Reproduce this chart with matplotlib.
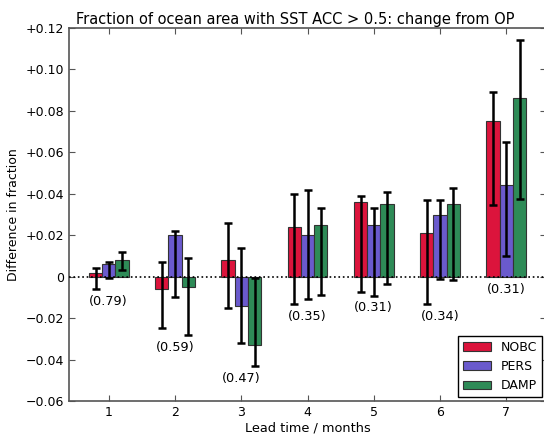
import matplotlib
matplotlib.use("Agg")
import matplotlib.pyplot as plt
import numpy as np

months = [1, 2, 3, 4, 5, 6, 7]
series = ["NOBC", "PERS", "DAMP"]
colors = ["#DC143C", "#6A5ACD", "#2E8B57"]

nobc = [0.002, -0.006, 0.008, 0.024, 0.036, 0.021, 0.075]
nobc_lo = [-0.006, -0.025, -0.015, -0.013, -0.0075, -0.013, 0.0345]
nobc_hi = [0.004, 0.007, 0.026, 0.040, 0.039, 0.037, 0.089]

pers = [0.006, 0.020, -0.014, 0.020, 0.025, 0.030, 0.044]
pers_lo = [-0.0005, -0.010, -0.032, -0.011, -0.0095, -0.001, 0.010]
pers_hi = [0.007, 0.022, 0.014, 0.042, 0.033, 0.037, 0.065]

damp = [0.008, -0.005, -0.033, 0.025, 0.035, 0.035, 0.086]
damp_lo = [0.003, -0.028, -0.043, -0.009, -0.0035, -0.0015, 0.0375]
damp_hi = [0.012, 0.009, -0.0005, 0.033, 0.041, 0.043, 0.114]

labels = ["(0.79)", "(0.59)", "(0.47)", "(0.35)", "(0.31)", "(0.34)", "(0.31)"]
label_y = [-0.012, -0.034, -0.049, -0.019, -0.015, -0.019, -0.006]

plt.rcParams['font.family'] = ['DejaVu Sans']
fig = plt.figure(figsize=(5.44, 4.34), dpi=100)
ax = fig.add_axes([69/544, 33/434, 477/544, 373/434])

x = np.array(months, dtype=float)
w = 0.2
data = [(nobc, nobc_lo, nobc_hi), (pers, pers_lo, pers_hi), (damp, damp_lo, damp_hi)]
for i, (vals, lo, hi) in enumerate(data):
    xs = x + (i - 1) * w
    vals = np.array(vals); lo = np.array(lo); hi = np.array(hi)
    ax.bar(xs, vals, width=w, color=colors[i], edgecolor="#333333", linewidth=0.8,
           label=series[i], zorder=2)
    ax.errorbar(xs, vals, yerr=[vals - lo, hi - vals], fmt='none', ecolor='black',
                elinewidth=1.8, capsize=3, capthick=1.8, zorder=3)

ax.axhline(0, color='black', linestyle=':', linewidth=1.2, zorder=4)

for xi, lab, ly in zip(x, labels, label_y):
    ax.text(xi, ly, lab, ha='center', va='center', fontsize=9.3)

ax.set_xlim(0.4, 7.6)
ax.set_ylim(-0.06, 0.12)
ax.set_xticks(months)
yt = np.arange(-0.06, 0.121, 0.02)
ax.set_yticks(yt)
ax.set_yticklabels(["0" if abs(v) < 1e-9 else ("%+.2f" % v).replace("-", "\u2212") for v in yt])
ax.tick_params(direction='in', top=True, right=True, labelsize=9, length=4, color='#555555')
for s in ax.spines.values():
    s.set_color('#555555')
    s.set_linewidth(1.2)

ax.set_xlabel("Lead time / months", fontsize=9.3, labelpad=2)
ax.set_ylabel("Difference in fraction", fontsize=9)
ax.set_title("Fraction of ocean area with SST ACC > 0.5: change from OP", fontsize=10.5,
             pad=3, x=0.475)

leg = ax.legend(loc='lower right', fontsize=9, fancybox=False, framealpha=1,
                edgecolor='black', borderaxespad=0.3, handlelength=2.2)
leg.get_frame().set_linewidth(1.0)

fig.savefig("out.png", dpi=100)
